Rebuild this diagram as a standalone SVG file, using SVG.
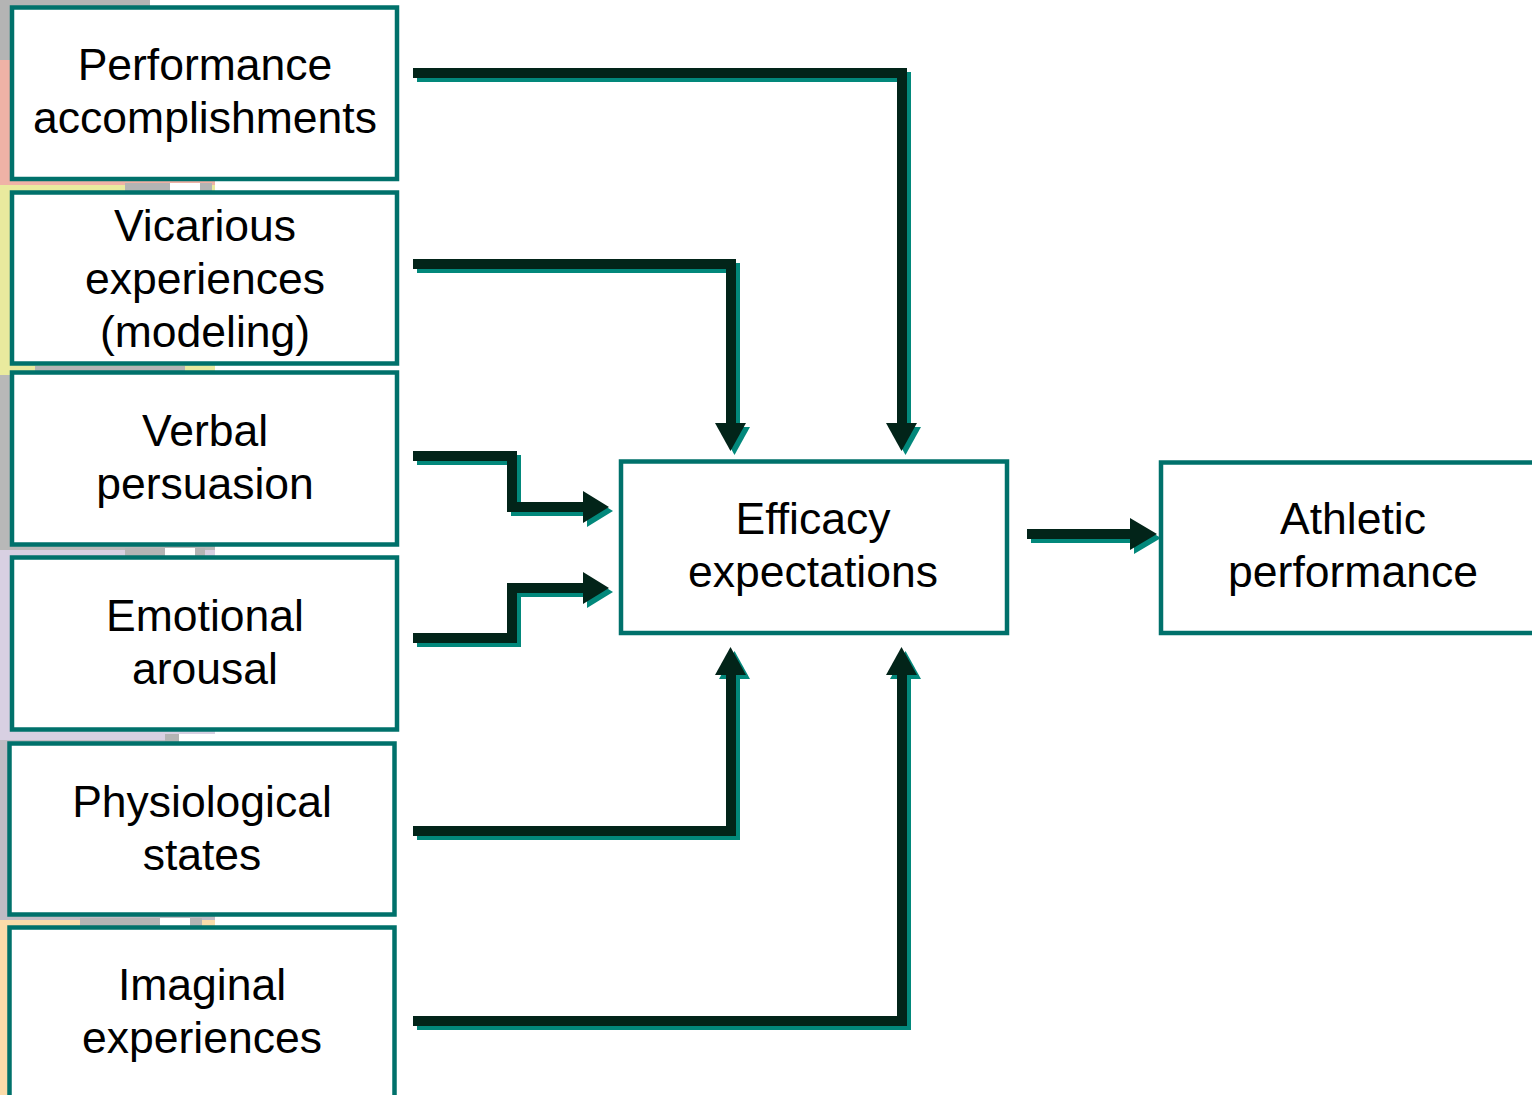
<svg xmlns="http://www.w3.org/2000/svg" xmlns:xlink="http://www.w3.org/1999/xlink" width="1532" height="1095" viewBox="0 0 1532 1095">
  <style>
    .box { fill: #ffffff; stroke: #00716b; stroke-width: 4.5; }
    .lbl { font-family: "Liberation Sans", Arial, sans-serif; font-size: 44.5px; fill: #000000; text-anchor: middle; }
    .ink { color: #022419; }
    .shade { color: #02887b; }
    .wire { fill: none; stroke: currentColor; stroke-width: 10; stroke-linejoin: miter; stroke-linecap: butt; }
    .head { fill: currentColor; stroke: none; }
  </style>
  <defs>
    <!-- connector shapes: a thick line plus a triangular head, drawn twice (shadow + ink) -->
    <g id="c1"><path class="wire" d="M413 73 H902 V424"/><polygon class="head" points="886,423 917,423 901.5,451"/></g>
    <g id="c2"><path class="wire" d="M413 264 H731 V424"/><polygon class="head" points="715,423 746,423 730.5,451"/></g>
    <g id="c3"><path class="wire" d="M413 456 H512 V507 H585"/><polygon class="head" points="583,491 583,523 609,507"/></g>
    <g id="c4"><path class="wire" d="M413 638 H512 V588 H585"/><polygon class="head" points="583,572 583,604 609,588"/></g>
    <g id="c5"><path class="wire" d="M413 831 H731 V674"/><polygon class="head" points="715,675 746,675 730.5,647"/></g>
    <g id="c6"><path class="wire" d="M413 1021 H902 V674"/><polygon class="head" points="886,675 917,675 901.5,647"/></g>
    <g id="c7"><path class="wire" d="M1027 534 H1132"/><polygon class="head" points="1130,518 1130,550 1157,534"/></g>
  </defs>

  <rect x="0" y="0" width="1532" height="1095" fill="#ffffff"/>

  <!-- decorative backdrop along the left edge -->
  <g id="backdrop">
    <rect x="0" y="0" width="215" height="185" fill="#efb2a6"/>
    <rect x="0" y="0" width="60" height="60" fill="#b4b4b4"/>
    <rect x="60" y="0" width="90" height="8" fill="#b4b4b4"/>
    <rect x="0" y="185" width="215" height="190" fill="#e9ea9e"/>
    <rect x="0" y="375" width="215" height="175" fill="#b8b8b8"/>
    <rect x="0" y="550" width="215" height="370" fill="#d8d0e2"/>
    <rect x="0" y="740" width="215" height="180" fill="#c0bcc4"/>
    <rect x="0" y="920" width="215" height="175" fill="#fbdcaa"/>
    <rect x="125" y="183" width="45" height="8" fill="#b4b4b4"/>
    <rect x="200" y="183" width="12" height="8" fill="#b4b4b4"/>
    <rect x="35" y="366" width="150" height="5" fill="#b4b4b4"/>
    <rect x="125" y="548" width="40" height="8" fill="#b4b4b4"/>
    <rect x="195" y="548" width="10" height="8" fill="#b4b4b4"/>
    <rect x="165" y="734" width="14" height="8" fill="#b4b4b4"/>
    <rect x="80" y="918" width="80" height="8" fill="#b4b4b4"/>
    <rect x="190" y="918" width="12" height="8" fill="#b4b4b4"/>
    <rect x="150" y="0" width="65" height="8" fill="#ffffff"/>
    <rect x="170" y="183" width="30" height="8" fill="#ffffff"/>
    <rect x="165" y="548" width="30" height="8" fill="#ffffff"/>
    <rect x="179" y="734" width="36" height="8" fill="#ffffff"/>
    <rect x="160" y="918" width="30" height="8" fill="#ffffff"/>
  </g>

  <g id="connectors">
    <use xlink:href="#c1" class="shade" transform="translate(4,4)"/>
    <use xlink:href="#c2" class="shade" transform="translate(4,4)"/>
    <use xlink:href="#c3" class="shade" transform="translate(4,4)"/>
    <use xlink:href="#c4" class="shade" transform="translate(4,4)"/>
    <use xlink:href="#c5" class="shade" transform="translate(4,4)"/>
    <use xlink:href="#c6" class="shade" transform="translate(4,4)"/>
    <use xlink:href="#c7" class="shade" transform="translate(4,4)"/>
    <use xlink:href="#c1" class="ink"/>
    <use xlink:href="#c2" class="ink"/>
    <use xlink:href="#c3" class="ink"/>
    <use xlink:href="#c4" class="ink"/>
    <use xlink:href="#c5" class="ink"/>
    <use xlink:href="#c6" class="ink"/>
    <use xlink:href="#c7" class="ink"/>
  </g>

  <g id="performance-accomplishments">
    <rect class="box" x="12" y="7.5" width="385" height="171.5"/>
    <text class="lbl" x="205" y="80">Performance</text>
    <text class="lbl" x="205" y="133">accomplishments</text>
  </g>
  <g id="vicarious-experiences">
    <rect class="box" x="12" y="192.5" width="385" height="171"/>
    <text class="lbl" x="205" y="241">Vicarious</text>
    <text class="lbl" x="205" y="294">experiences</text>
    <text class="lbl" x="205" y="347">(modeling)</text>
  </g>
  <g id="verbal-persuasion">
    <rect class="box" x="12" y="372.5" width="385" height="172"/>
    <text class="lbl" x="205" y="446">Verbal</text>
    <text class="lbl" x="205" y="499">persuasion</text>
  </g>
  <g id="emotional-arousal">
    <rect class="box" x="12" y="557.5" width="385" height="172"/>
    <text class="lbl" x="205" y="631">Emotional</text>
    <text class="lbl" x="205" y="684">arousal</text>
  </g>
  <g id="physiological-states">
    <rect class="box" x="9.5" y="743.5" width="385" height="171"/>
    <text class="lbl" x="202" y="817">Physiological</text>
    <text class="lbl" x="202" y="870">states</text>
  </g>
  <g id="imaginal-experiences">
    <rect class="box" x="9.5" y="927.5" width="385" height="180"/>
    <text class="lbl" x="202" y="1000">Imaginal</text>
    <text class="lbl" x="202" y="1053">experiences</text>
  </g>
  <g id="efficacy-expectations">
    <rect class="box" x="621" y="461.5" width="386" height="171.5"/>
    <text class="lbl" x="813" y="534">Efficacy</text>
    <text class="lbl" x="813" y="587">expectations</text>
  </g>
  <g id="athletic-performance">
    <rect class="box" x="1161" y="462.5" width="390" height="170.5"/>
    <text class="lbl" x="1353" y="534">Athletic</text>
    <text class="lbl" x="1353" y="587">performance</text>
  </g>
</svg>
